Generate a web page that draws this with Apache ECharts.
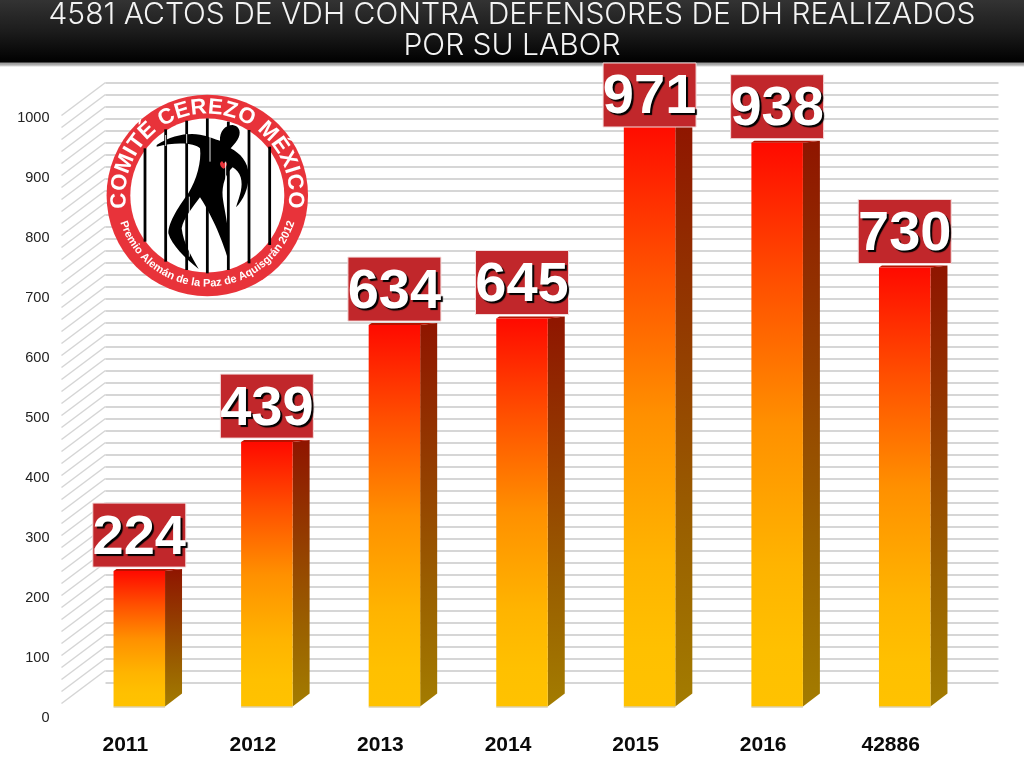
<!DOCTYPE html>
<html><head><meta charset="utf-8">
<style>html,body{margin:0;padding:0;background:#fff}#c{width:1024px;height:768px}</style>
<script src="https://cdn.jsdelivr.net/npm/echarts@6/dist/echarts.min.js"></script>
</head><body><div id="c"></div>
<script>
const titleText = '4581 ACTOS DE VDH CONTRA DEFENSORES DE DH REALIZADOS\nPOR SU LABOR';
const categories = ['2011','2012','2013','2014','2015','2016','42886'];
const values = [224,439,634,645,971,938,730];
const axisMax = 1000, labelStep = 100, wallStep = 20;
const wallTicks = [];
for (let t = wallStep; t <= axisMax; t += wallStep) wallTicks.push(t);
const logoTop = 'COMITÉ CEREZO MÉXICO';
const logoBottom = 'Premio Alemán de la Paz de Aquisgrán 2012';

const chart = echarts.init(document.getElementById('c'), null, {renderer:'canvas', width:1024, height:768});

/* chart geometry */
const FRONT = {left:61.5, top:115.5, width:893, height:600};
const DEPTH = {x:44, y:33};
const BAR = {dx:14, w:51.5, sideX:17, sideY:13, base:9, topLift:10};
const BOX = {w:93, h:64, gap:4, minTop:63};

function renderWall(params, api){
  const v = api.value(0);
  const y = api.coord([0, v])[1];
  const x = params.coordSys.x;
  return {type:'line', shape:{x1:x, y1:y, x2:x+DEPTH.x, y2:y-DEPTH.y},
    style:{stroke:'#d4d4d4', lineWidth:1.4}};
}
const frontGrad = {type:'linear',x:0,y:0,x2:0,y2:1,colorStops:[
  {offset:0,color:'#ff0a00'},{offset:0.25,color:'#ff5000'},{offset:0.5,color:'#ff9000'},{offset:0.75,color:'#ffb400'},{offset:0.9,color:'#ffc000'},{offset:1,color:'#ffc200'}]};
const sideGrad = {type:'linear',x:0,y:0,x2:0,y2:1,colorStops:[
  {offset:0,color:'#8f1500'},{offset:0.35,color:'#933a00'},{offset:0.7,color:'#9a6000'},{offset:1,color:'#a37c00'}]};

function renderBar(params, api){
  const i = api.value(0), v = api.value(1);
  const c = api.coord([i, v]);
  const y0 = api.coord([i, 0])[1] - BAR.base;
  const yT = c[1] - BAR.topLift;
  const xL = c[0] + BAR.dx - BAR.w/2, xR = xL + BAR.w;
  const boxTop = Math.max(BOX.minTop, yT - BOX.gap - BOX.h);
  const boxX = xL + BAR.w/2 - BOX.w/2;
  return {type:'group', children:[
    {type:'polygon', shape:{points:[[xR,y0],[xR+BAR.sideX,y0-BAR.sideY],[xR+BAR.sideX,yT-2],[xR,yT]]}, style:{fill:sideGrad}},
    {type:'polygon', shape:{points:[[xL,yT],[xL+3,yT-2],[xR+BAR.sideX,yT-2],[xR,yT]]}, style:{fill:'#b81200'}},
    {type:'rect', shape:{x:xL,y:yT,width:BAR.w,height:y0-yT}, style:{fill:frontGrad}},
    {type:'line', shape:{x1:xL,y1:y0+.5,x2:xR,y2:y0+.5}, style:{stroke:'#c9b98a',lineWidth:1}},
    {type:'rect', shape:{x:boxX,y:boxTop,width:BOX.w,height:BOX.h},
      style:{fill:'#c1272b',stroke:'#f3dcdc',lineWidth:1}},
    {type:'text', x:boxX+BOX.w/2, y:boxTop+BOX.h/2+3,
      style:{text:String(v), fill:'#fff', align:'center', verticalAlign:'middle',
        font:'bold 56px "Liberation Sans", Arial, sans-serif',
        textShadowColor:'#000', textShadowOffsetX:2, textShadowOffsetY:2, textShadowBlur:1}}
  ]};
}

/* logo */
const LOGO = {cx:207.3, cy:195.5, r:100.7, ri:77};
const logoEls = [
  {type:'circle', shape:{cx:LOGO.cx,cy:LOGO.cy,r:LOGO.r}, style:{fill:'#e8333a'}, z:5},
  {type:'circle', shape:{cx:LOGO.cx,cy:LOGO.cy,r:LOGO.ri}, style:{fill:'#fff'}, z:5}
];
const zx = x => 100 + x/3, zy = y => 90 + y/3;
function renderFigure(){
  return {type:'group', children:[
    {type:'path', shape:{pathData:'M170 165 C215 135 265 128 300 134 C325 138 345 148 360 152 C358 125 375 105 398 105 C420 108 425 130 412 150 C405 162 395 170 392 175 C420 190 445 215 446 255 C446 295 430 330 408 352 C420 315 430 290 422 262 C418 248 408 238 398 232 C378 250 365 285 368 320 C372 360 392 420 386 512 C372 470 350 400 300 322 C280 350 250 385 245 415 C250 460 275 500 296 537 C255 505 215 465 205 430 C205 395 240 345 265 310 C290 270 305 215 300 175 C285 158 225 155 170 170 Z',
      x:zx(170), y:zy(105), width:(446-170)/3, height:(537-105)/3, layout:'cover'}, style:{fill:'#000'}},
    {type:'path', z2:5, shape:{pathData:'M0 6 C4 -2 8 -2 10 6 C14 0 22 2 20 10 C18 16 14 20 10 22 C4 18 0 12 0 6 Z',
      x:zx(360), y:zy(214), width:7, height:7.5, layout:'cover'}, style:{fill:'#e8333a'}}
  ]};
}
[[135,175,455],[197,118,515],[260,92,540],[322,85,550],[385,95,540],[447,120,520],[509,170,465]].forEach(b=>{
  logoEls.push({type:'line', z:7, shape:{x1:zx(b[0]),y1:zy(b[1]),x2:zx(b[0]),y2:zy(b[2])}, style:{stroke:'#000',lineWidth:2.8}});
});
[[197,135,168],[260,132,160],[268,320,500],[330,140,215],[377,215,340],[393,240,500]].forEach(b=>{
  logoEls.push({type:'line', z:7, shape:{x1:zx(b[0]),y1:zy(b[1]),x2:zx(b[0]),y2:zy(b[2])}, style:{stroke:'#fff',lineWidth:0.9}});
});

const measure = document.createElement('canvas').getContext('2d');
function arcText(str, font, R, span, top){
  measure.font = font;
  const widths = [...str].map(ch => measure.measureText(ch).width);
  const total = widths.reduce((a,b)=>a+b,0);
  let acc = 0;
  [...str].forEach((ch,k)=>{
    const f = (acc + widths[k]/2)/total; acc += widths[k];
    const a = (f-0.5)*span;
    const x = LOGO.cx + R*Math.sin(a);
    const y = top ? LOGO.cy - R*Math.cos(a) : LOGO.cy + R*Math.cos(a);
    logoEls.push({type:'text', z:8, x, y, rotation: top ? -a : a,
      style:{text:ch, font, fill:'#fff', textAlign:'center', textVerticalAlign:'middle'}});
  });
}
arcText(logoTop, 'bold 22px "Liberation Sans", sans-serif', 88, 198*Math.PI/180, true);
arcText(logoBottom, 'bold 11px "Liberation Sans", sans-serif', 88, 146*Math.PI/180, false);

chart.setOption({
  animation:false,
  backgroundColor:'#fff',
  title:{text:titleText, left:'center', top:-6, z:20,
    textStyle:{color:'#f4f4f4', fontFamily:'Inter, sans-serif', fontWeight:300, fontSize:30, lineHeight:31}},
  grid:[
    {left:FRONT.left, top:FRONT.top, width:FRONT.width, height:FRONT.height},
    {left:FRONT.left+DEPTH.x, top:FRONT.top-DEPTH.y, width:FRONT.width, height:FRONT.height}
  ],
  xAxis:[
    {type:'category', gridIndex:0, data:categories, axisLine:{show:false}, axisTick:{show:false},
      axisLabel:{color:'#0a0a0a', fontFamily:'"Liberation Sans", Arial, sans-serif', fontWeight:'bold', fontSize:21, margin:19}},
    {type:'value', gridIndex:1, min:0, max:1, show:false}
  ],
  yAxis:[
    {type:'value', gridIndex:0, min:0, max:axisMax, interval:labelStep, axisLine:{show:false}, axisTick:{show:false}, splitLine:{show:false},
      axisLabel:{color:'#222', fontFamily:'"Liberation Sans", Arial, sans-serif', fontSize:14.5, margin:12, verticalAlign:'top', lineHeight:5, formatter:v=>String(v)}},
    {type:'value', gridIndex:1, min:0, max:axisMax, interval:wallStep, axisLine:{show:false}, axisTick:{show:false}, axisLabel:{show:false},
      splitLine:{show:true, lineStyle:{color:'#c9c9c9', width:1.7}}}
  ],
  series:[
    {type:'custom', xAxisIndex:1, yAxisIndex:1, z:6, silent:true, clip:false, data:[[0,0]], renderItem:renderFigure},
    {type:'custom', xAxisIndex:0, yAxisIndex:0, z:1, silent:true, clip:false, data:wallTicks.map(t=>[t]), encode:{y:0}, renderItem:renderWall},
    {type:'custom', xAxisIndex:0, yAxisIndex:0, z:10, clip:false, silent:true, data:values.map((v,i)=>[i,v]), encode:{x:0,y:1}, renderItem:renderBar}
  ],
  graphic:{elements:[
    {type:'rect', z:3, shape:{x:0,y:62,width:1024,height:5},
      style:{fill:{type:'linear',x:0,y:0,x2:0,y2:1,colorStops:[{offset:0,color:'#8e8e8e'},{offset:0.6,color:'#b0b0b0'},{offset:1,color:'#ffffff'}]}}},
    {type:'rect', z:3, shape:{x:0,y:0,width:1024,height:62.5},
      style:{fill:{type:'linear',x:0,y:0,x2:0,y2:1,colorStops:[{offset:0,color:'#333333'},{offset:0.5,color:'#1c1c1c'},{offset:1,color:'#000000'}]}}},
    ...logoEls
  ]}
});
</script></body></html>
